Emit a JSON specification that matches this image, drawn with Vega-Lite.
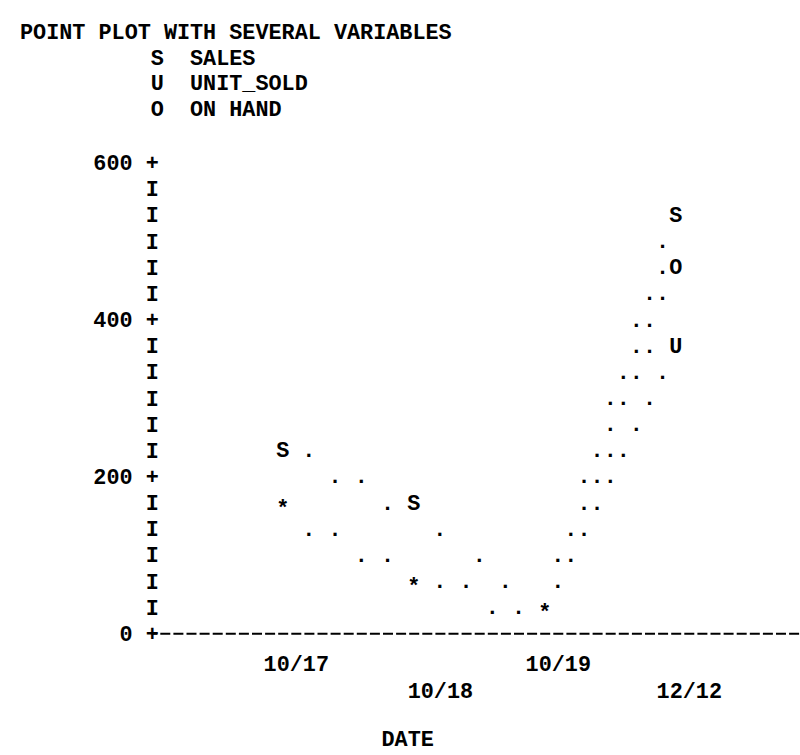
{
  "$schema": "https://vega.github.io/schema/vega-lite/v6.json",
  "width": 648.3,
  "height": 470.6,
  "autosize": "none",
  "padding": {"left": 151.7, "top": 162.7, "right": 0, "bottom": 121.7},
  "background": "white",
  "config": {"view": {"stroke": null}},
  "title": {
    "text": "POINT PLOT WITH SEVERAL VARIABLES",
    "subtitle": ["\u200b\u00a0\u00a0\u00a0\u00a0\u00a0\u00a0\u00a0\u00a0\u00a0\u00a0S\u00a0\u00a0SALES", "\u200b\u00a0\u00a0\u00a0\u00a0\u00a0\u00a0\u00a0\u00a0\u00a0\u00a0U\u00a0\u00a0UNIT_SOLD", "\u200b\u00a0\u00a0\u00a0\u00a0\u00a0\u00a0\u00a0\u00a0\u00a0\u00a0O\u00a0\u00a0ON HAND"],
    "anchor": "start",
    "frame": "group",
    "dx": -131.7,
    "font": "Liberation Mono",
    "fontSize": 21.8,
    "fontWeight": "bold",
    "color": "black",
    "subtitleFont": "Liberation Mono",
    "subtitleFontSize": 21.8,
    "subtitleFontWeight": "bold",
    "subtitleColor": "black",
    "subtitleLineHeight": 25.7,
    "subtitlePadding": 4,
    "offset": 32
  },
  "data": {
    "values": [
      {"col": 40, "value": 533.3, "sym": "S"},
      {"col": 39, "value": 500, "sym": "."},
      {"col": 39, "value": 466.7, "sym": "."},
      {"col": 40, "value": 466.7, "sym": "O"},
      {"col": 38, "value": 433.3, "sym": "."},
      {"col": 39, "value": 433.3, "sym": "."},
      {"col": 37, "value": 400, "sym": "."},
      {"col": 38, "value": 400, "sym": "."},
      {"col": 37, "value": 366.7, "sym": "."},
      {"col": 38, "value": 366.7, "sym": "."},
      {"col": 40, "value": 366.7, "sym": "U"},
      {"col": 36, "value": 333.3, "sym": "."},
      {"col": 37, "value": 333.3, "sym": "."},
      {"col": 39, "value": 333.3, "sym": "."},
      {"col": 35, "value": 300, "sym": "."},
      {"col": 36, "value": 300, "sym": "."},
      {"col": 38, "value": 300, "sym": "."},
      {"col": 35, "value": 266.7, "sym": "."},
      {"col": 37, "value": 266.7, "sym": "."},
      {"col": 10, "value": 233.3, "sym": "S"},
      {"col": 12, "value": 233.3, "sym": "."},
      {"col": 34, "value": 233.3, "sym": "."},
      {"col": 35, "value": 233.3, "sym": "."},
      {"col": 36, "value": 233.3, "sym": "."},
      {"col": 14, "value": 200, "sym": "."},
      {"col": 16, "value": 200, "sym": "."},
      {"col": 33, "value": 200, "sym": "."},
      {"col": 34, "value": 200, "sym": "."},
      {"col": 35, "value": 200, "sym": "."},
      {"col": 10, "value": 166.7, "sym": "*"},
      {"col": 18, "value": 166.7, "sym": "."},
      {"col": 20, "value": 166.7, "sym": "S"},
      {"col": 33, "value": 166.7, "sym": "."},
      {"col": 34, "value": 166.7, "sym": "."},
      {"col": 12, "value": 133.3, "sym": "."},
      {"col": 14, "value": 133.3, "sym": "."},
      {"col": 22, "value": 133.3, "sym": "."},
      {"col": 32, "value": 133.3, "sym": "."},
      {"col": 33, "value": 133.3, "sym": "."},
      {"col": 16, "value": 100, "sym": "."},
      {"col": 18, "value": 100, "sym": "."},
      {"col": 25, "value": 100, "sym": "."},
      {"col": 31, "value": 100, "sym": "."},
      {"col": 32, "value": 100, "sym": "."},
      {"col": 20, "value": 66.7, "sym": "*"},
      {"col": 22, "value": 66.7, "sym": "."},
      {"col": 24, "value": 66.7, "sym": "."},
      {"col": 27, "value": 66.7, "sym": "."},
      {"col": 31, "value": 66.7, "sym": "."},
      {"col": 26, "value": 33.3, "sym": "."},
      {"col": 28, "value": 33.3, "sym": "."},
      {"col": 30, "value": 33.3, "sym": "*"}
    ]
  },
  "encoding": {
    "x": {
      "field": "col",
      "type": "quantitative",
      "scale": {"domain": [0, 49.49], "nice": false, "zero": false},
      "axis": {
        "values": [11, 22, 31, 41],
        "labelExpr": "datum.value == 11 ? '10/17' : datum.value == 22 ? '10/18' : datum.value == 31 ? '10/19' : '12/12'",
        "ticks": false,
        "tickSize": 0,
        "grid": false,
        "domain": true,
        "domainColor": "black",
        "domainWidth": 2,
        "domainDash": [10, 3.1],
        "domainDashOffset": 5,
        "labelFont": "Liberation Mono",
        "labelFontSize": 21.8,
        "labelFontWeight": "bold",
        "labelColor": "black",
        "labelBaseline": "middle",
        "labelAlign": "center",
        "labelPadding": {"condition": {"test": "datum.value == 22 || datum.value == 41", "value": 56.7}, "value": 29.7},
        "labelFlush": false,
        "labelOverlap": false,
        "labelBound": false,
        "title": "DATE",
        "titleFont": "Liberation Mono",
        "titleFontSize": 21.8,
        "titleFontWeight": "bold",
        "titleColor": "black",
        "titleX": 255.5,
        "titleY": 104.7,
        "titleBaseline": "middle",
        "titleAlign": "center"
      }
    },
    "y": {
      "field": "value",
      "type": "quantitative",
      "scale": {"domain": [0, 600], "nice": false, "zero": false},
      "axis": {
        "values": [0, 33.3333, 66.6667, 100, 133.3333, 166.6667, 200, 233.3333, 266.6667, 300, 333.3333, 366.6667, 400, 433.3333, 466.6667, 500, 533.3333, 566.6667, 600],
        "labelExpr": "abs(datum.value - round(datum.value / 200) * 200) < 1 ? format(datum.value, 'd') + ' +' : 'I'",
        "ticks": false,
        "tickSize": 0,
        "domain": false,
        "grid": false,
        "labelFont": "Liberation Mono",
        "labelFontSize": 21.8,
        "labelFontWeight": "bold",
        "labelColor": "black",
        "labelAlign": "right",
        "labelBaseline": "middle",
        "labelPadding": -6.55,
        "labelFlush": false,
        "labelOverlap": false,
        "labelBound": false,
        "title": null
      }
    },
    "text": {"field": "sym", "type": "nominal"}
  },
  "layer": [
    {
      "transform": [{"filter": "datum.sym != '*'"}],
      "mark": {"type": "text", "font": "Liberation Mono", "fontSize": 21.8, "fontWeight": "bold", "baseline": "middle", "align": "center", "color": "black"}
    },
    {
      "transform": [{"filter": "datum.sym == '*'"}],
      "mark": {"type": "text", "font": "Liberation Mono", "fontSize": 21.8, "fontWeight": "bold", "baseline": "middle", "align": "center", "color": "black", "dy": 5}
    }
  ]
}
